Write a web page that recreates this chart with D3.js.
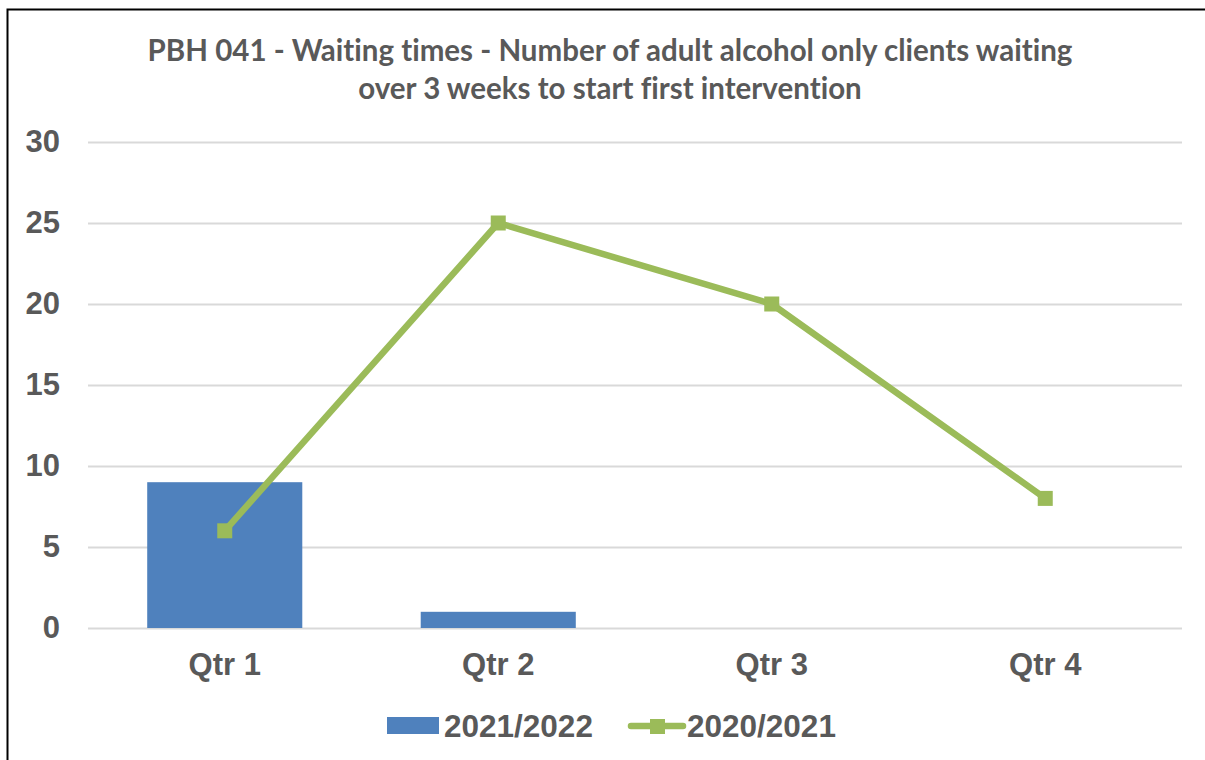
<!DOCTYPE html>
<html>
<head>
<meta charset="utf-8">
<script src="https://cdn.jsdelivr.net/npm/d3@7"></script>
<style>
  body { margin: 0; background: #fff; }
  svg { display: block; }
</style>
</head>
<body>
<div id="app"></div>
<script>
// data
const quarters = ["Qtr 1", "Qtr 2", "Qtr 3", "Qtr 4"];
const values2122 = [9, 1, null, null];
const values2021 = [6, 25, 20, 8];
const yTicks = [0, 5, 10, 15, 20, 25, 30];
const seriesNames = ["2021/2022", "2020/2021"];
const titleLines = [
  "PBH 041 - Waiting times - Number of adult alcohol only clients waiting",
  "over 3 weeks to start first intervention"
];

const width = 1205
    , height = 760
    , margin = { top: 142, right: 23, bottom: 132, left: 88 }
    , textColor = "#595959"
    , blue = "#4F81BD"
    , green = "#9BBB59"
    , labelFont = "'Liberation Sans', Arial, sans-serif";

const svg = d3.select("#app").append("svg")
    .attr("width", width)
    .attr("height", height);

// frame
svg.append("rect")
    .attr("x", 7.5).attr("y", 9.5)
    .attr("width", width + 10).attr("height", height + 10)
    .attr("fill", "none")
    .attr("stroke", "#000")
    .attr("stroke-width", 2);

const x = d3.scaleBand()
    .domain(quarters)
    .range([margin.left, width - margin.right]);

const y = d3.scaleLinear()
    .domain([0, 30])
    .range([height - margin.bottom, margin.top]);

// title
svg.append("text")
    .attr("text-anchor", "middle")
    .attr("fill", textColor)
    .style("font-family", "Lato, 'Open Sans', sans-serif")
    .style("font-weight", "bold")
    .style("font-size", "29.5px")
    .style("font-variant-ligatures", "none")
  .selectAll("tspan")
    .data(titleLines)
  .enter().append("tspan")
    .attr("x", 610)
    .attr("y", (d, i) => 60.5 + i * 38.5)
    .text(d => d);

// gridlines
svg.append("g")
    .attr("transform", `translate(${margin.left},0)`)
    .call(d3.axisLeft(y).tickValues(yTicks).tickSize(-(width - margin.left - margin.right)).tickFormat(""))
    .call(g => g.select(".domain").remove())
    .call(g => g.selectAll("line").attr("stroke", "#d9d9d9").attr("stroke-width", 2));

// y labels
svg.append("g")
    .attr("transform", `translate(${margin.left},0)`)
    .call(d3.axisLeft(y).tickValues(yTicks).tickSize(0).tickPadding(28))
    .call(g => g.select(".domain").remove())
    .call(g => g.selectAll("text")
      .attr("fill", textColor)
      .style("font-family", labelFont)
      .style("font-weight", "bold")
      .style("font-size", "31px"));

// bars
const barW = x.bandwidth() * 0.567;
svg.append("g")
  .selectAll("rect")
    .data(quarters.map((q, i) => ({ q, v: values2122[i] })).filter(d => d.v != null))
  .enter().append("rect")
    .attr("x", d => x(d.q) + (x.bandwidth() - barW) / 2)
    .attr("y", d => y(d.v))
    .attr("width", barW)
    .attr("height", d => y(0) - y(d.v))
    .attr("fill", blue);

// x labels
svg.append("g")
    .attr("transform", `translate(0,${y(0)})`)
    .call(d3.axisBottom(x).tickSize(0).tickPadding(25))
    .call(g => g.select(".domain").remove())
    .call(g => g.selectAll("text")
      .attr("fill", textColor)
      .style("font-family", labelFont)
      .style("font-weight", "bold")
      .style("font-size", "31px"));

// line
const pts = quarters.map((q, i) => ({ q, v: values2021[i] }));
const line = d3.line()
    .x(d => x(d.q) + x.bandwidth() / 2)
    .y(d => y(d.v));

svg.append("path")
    .datum(pts)
    .attr("d", line)
    .attr("fill", "none")
    .attr("stroke", green)
    .attr("stroke-width", 6.5)
    .attr("stroke-linejoin", "round");

svg.append("g")
  .selectAll("rect")
    .data(pts)
  .enter().append("rect")
    .attr("x", d => x(d.q) + x.bandwidth() / 2 - 7.5)
    .attr("y", d => y(d.v) - 7.5)
    .attr("width", 15)
    .attr("height", 15)
    .attr("fill", green);

// legend
const legend = svg.append("g")
    .style("font-family", labelFont)
    .style("font-weight", "bold")
    .style("font-size", "31.5px")
    .attr("fill", textColor);

legend.append("rect")
    .attr("x", 387).attr("y", 717)
    .attr("width", 52).attr("height", 17)
    .attr("fill", blue);
legend.append("text")
    .attr("x", 444).attr("y", 737)
    .text(seriesNames[0]);

legend.append("line")
    .attr("x1", 631).attr("x2", 683)
    .attr("y1", 726).attr("y2", 726)
    .attr("stroke", green)
    .attr("stroke-width", 6.5)
    .attr("stroke-linecap", "round");
legend.append("rect")
    .attr("x", 650).attr("y", 719)
    .attr("width", 15).attr("height", 15)
    .attr("fill", green);
legend.append("text")
    .attr("x", 687).attr("y", 737)
    .text(seriesNames[1]);
</script>
</body>
</html>
